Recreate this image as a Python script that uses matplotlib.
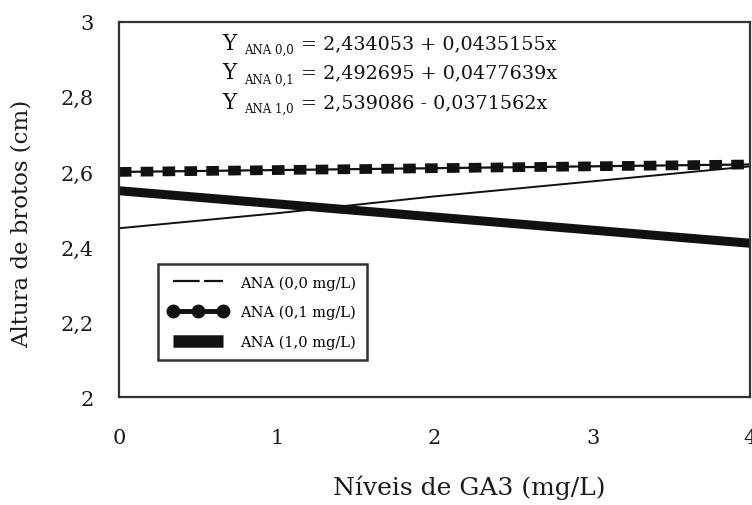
import matplotlib.pyplot as plt
from matplotlib.lines import Line2D

ga3 = [0, 1, 2, 3, 4]
ana_00 = [2.45, 2.49, 2.535, 2.575, 2.615]
ana_01 = [2.60, 2.605, 2.61, 2.615, 2.62]
ana_10 = [2.55, 2.515, 2.48, 2.445, 2.41]

x_ticks = [0, 1, 2, 3, 4]
y_ticks = [2, 2.2, 2.4, 2.6, 2.8, 3]
y_labels = ["2", "2,2", "2,4", "2,6", "2,8", "3"]

equacoes = [("ANA 0,0", "= 2,434053 + 0,0435155x"),
            ("ANA 0,1", "= 2,492695 + 0,0477639x"),
            ("ANA 1,0", "= 2,539086 - 0,0371562x")]
legendas = ["ANA (0,0 mg/L)", "ANA (0,1 mg/L)", "ANA (1,0 mg/L)"]

plt.rcParams['font.family'] = ['DejaVu Serif']

fig = plt.figure(figsize=(7.52, 5.06), dpi=100)
ax = fig.add_axes([0.158, 0.213, 0.84, 0.742])

cor = "#111111"
ax.plot(ga3, ana_00, color=cor, lw=1.4)
ax.plot(ga3, ana_01, color=cor, lw=1.6)
ax.plot(ga3, ana_01, color=cor, lw=7, dashes=(1.3, 0.95))
ax.plot(ga3, ana_10, color=cor, lw=6.5, solid_capstyle="butt")

ax.set_xlim(0, 4)
ax.set_ylim(2, 3)
ax.set_xticks(x_ticks)
ax.set_yticks(y_ticks)
ax.set_yticklabels(y_labels)
ax.tick_params(length=0, labelsize=15, colors="#1a1a1a")
ax.tick_params(axis="x", pad=22)
ax.tick_params(axis="y", pad=18)
for s in ax.spines.values():
    s.set_linewidth(1.6)
    s.set_color("#333333")

ax.set_xlabel("Níveis de GA3 (mg/L)", fontsize=18, color="#1a1a1a")
ax.xaxis.set_label_coords(0.554, -0.205)
ax.set_ylabel("Altura de brotos (cm)", fontsize=16.5, color="#1a1a1a")
ax.yaxis.set_label_coords(-0.137, 0.465)

# equacoes no topo
for i, (sub, eq) in enumerate(equacoes):
    yf = 1 - (44 + 29.5 * i) / 506
    fig.text(222 / 752, yf, "Y", fontsize=15.5, va="center", color="#111111")
    fig.text(244 / 752, yf - 0.013, sub, fontsize=8.5, va="center", color="#111111")
    fig.text(301 / 752, yf, eq, fontsize=13.8, va="center", color="#111111")

handles = [
    Line2D([], [], color=cor, lw=1.6, dashes=(12, 2)),
    Line2D([], [], color=cor, lw=3.5, marker="o", markersize=9),
    Line2D([], [], color=cor, lw=9, solid_capstyle="butt"),
]
leg = ax.legend(handles, legendas, loc="lower left", bbox_to_anchor=(0.05, 0.08),
                numpoints=3, fontsize=10.5, handlelength=4.0, handletextpad=0.9,
                labelspacing=1.05, fancybox=False, framealpha=1, borderpad=0.75)
leg.get_frame().set_edgecolor("#333333")
leg.get_frame().set_linewidth(1.8)

fig.savefig("out.png", dpi=100)
